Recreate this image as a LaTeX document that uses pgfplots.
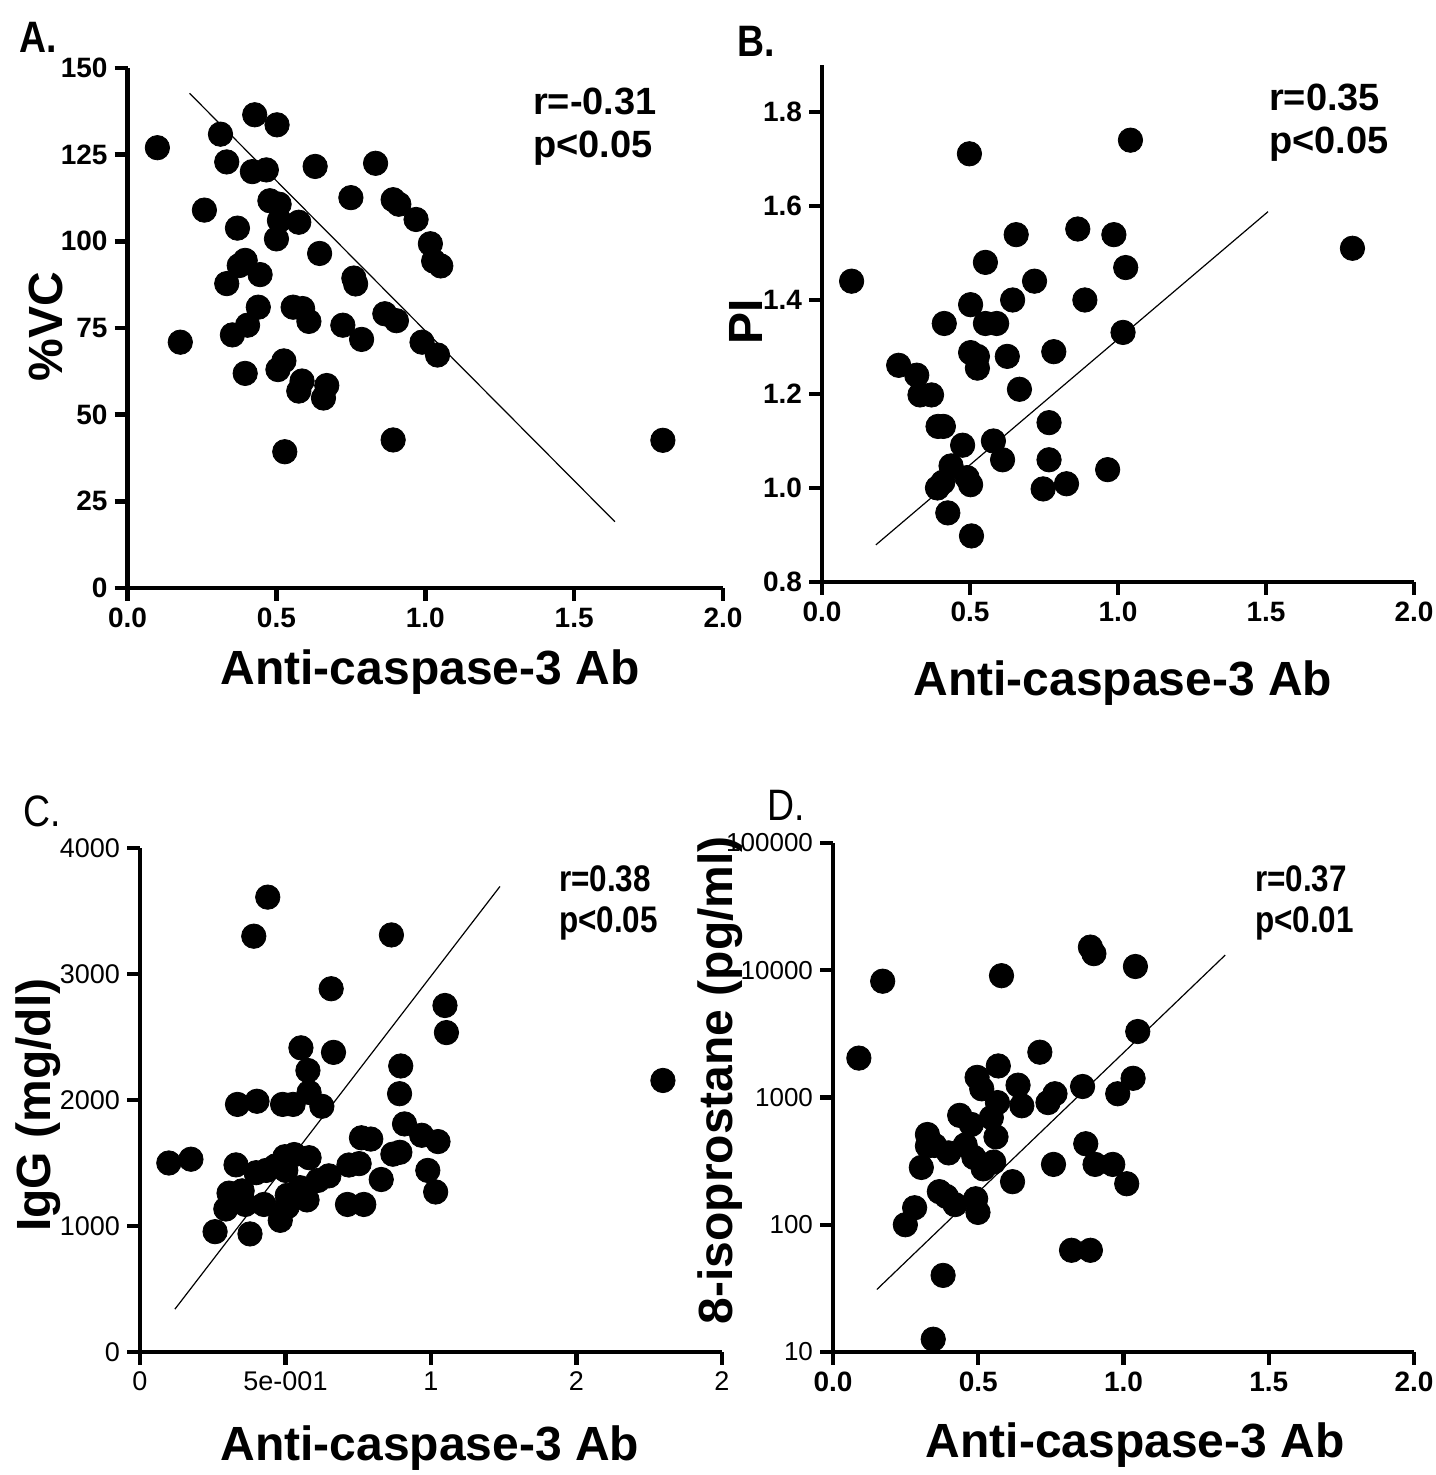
\documentclass[border=0pt]{standalone}
\usepackage{fontspec}
\setmainfont{Liberation Sans}
\newfontfamily\narrowfont[FakeStretch=0.85]{Liberation Sans}
\usepackage{pgfplots}
\pgfplotsset{compat=1.18}
\usepackage{pgfplotstable}

% A: %VC vs anti-caspase-3
\pgfplotstableread{
x y
0.100 127.0
0.177 70.9
0.258 109.0
0.312 130.9
0.333 122.9
0.333 87.8
0.352 73.0
0.369 103.8
0.375 93.0
0.395 94.5
0.395 61.9
0.403 75.8
0.419 120.1
0.427 136.5
0.439 81.0
0.445 90.4
0.466 120.6
0.478 111.7
0.509 110.7
0.510 106.0
0.500 100.7
0.502 133.6
0.505 63.0
0.525 65.5
0.528 39.3
0.556 81.0
0.575 105.5
0.588 80.6
0.609 76.9
0.575 56.8
0.586 59.7
0.630 121.6
0.645 96.5
0.658 54.8
0.669 58.4
0.723 75.8
0.750 112.6
0.760 89.4
0.766 87.7
0.786 71.7
0.833 122.5
0.864 79.1
0.892 112.0
0.911 110.7
0.903 77.1
0.892 42.7
0.969 106.3
0.989 70.9
1.017 99.3
1.028 94.3
1.052 92.9
1.041 67.2
1.798 42.6
}\dataA

% B: PI
\pgfplotstableread{
x y
0.100 1.440
0.259 1.261
0.320 1.240
0.331 1.198
0.370 1.198
0.392 1.131
0.410 1.131
0.390 1.000
0.408 1.012
0.413 1.350
0.425 0.947
0.436 1.047
0.475 1.091
0.490 1.022
0.502 1.007
0.498 1.711
0.502 1.390
0.502 1.288
0.525 1.280
0.525 1.255
0.505 0.898
0.552 1.480
0.552 1.350
0.590 1.350
0.579 1.100
0.610 1.060
0.626 1.280
0.644 1.400
0.656 1.539
0.667 1.210
0.718 1.440
0.747 0.998
0.767 1.139
0.767 1.060
0.783 1.290
0.826 1.009
0.864 1.551
0.888 1.400
0.965 1.039
0.986 1.539
1.017 1.331
1.026 1.469
1.042 1.740
1.792 1.510
}\dataB

% C: IgG
\pgfplotstableread{
x y
0.099 1500
0.175 1530
0.258 955
0.295 1135
0.306 1261
0.335 1965
0.330 1485
0.351 1279
0.362 1171
0.378 937
0.391 3300
0.402 1990
0.399 1423
0.426 1171
0.439 3610
0.434 1441
0.466 1477
0.490 1965
0.482 1045
0.498 1550
0.501 1441
0.506 1153
0.506 1243
0.526 1965
0.530 1567
0.550 1304
0.553 2414
0.574 1207
0.577 2234
0.581 2060
0.581 1542
0.612 1362
0.625 1950
0.649 1398
0.657 2883
0.665 2378
0.713 1171
0.718 1484
0.753 1495
0.769 1171
0.761 1700
0.793 1690
0.829 1369
0.864 3310
0.869 1570
0.893 1585
0.896 2270
0.892 2050
0.909 1810
0.968 1720
0.989 1441
1.024 1670
1.016 1270
1.048 2750
1.053 2535
1.797 2155
}\dataC

% D: 8-isoprostane
\pgfplotstableread{
x y
0.089 2040
0.171 8200
0.249 100
0.281 136
0.304 282
0.325 512
0.325 416
0.350 420
0.345 12.6
0.366 182
0.390 167
0.398 367
0.379 40
0.420 144
0.436 724
0.455 423
0.476 614
0.485 338
0.491 160
0.499 125
0.496 1440
0.512 1170
0.517 275
0.545 695
0.553 311
0.566 912
0.561 490
0.569 1770
0.580 9060
0.618 218
0.637 1250
0.650 861
0.712 2270
0.740 912
0.764 1070
0.759 298
0.821 63
0.859 1220
0.870 433
0.886 63
0.886 15200
0.898 13500
0.902 298
0.963 298
0.980 1070
1.011 210
1.033 1415
1.041 10700
1.049 3300
}\dataD

\pgfplotsset{
  prism/.style={
    scale only axis, anchor=south west, clip=false,
    axis x line=bottom, axis y line=left,
    axis line style={line width=2.2pt,-},
    tick style={line width=2.2pt, black},
    major tick length=6.5pt, tick align=outside,
    xmin=0, xmax=2, xtick={0,0.5,1,1.5,2},
    xlabel={Anti-caspase-3 Ab},
    label style={font=\bfseries\fontsize{24}{24}\selectfont},
    ticklabel style={font=\bfseries\fontsize{14}{14}\selectfont},
  },
  dots/.style={only marks, mark=*, mark size=6.1pt, black, mark options={fill=black}},
  fit/.style={no marks, black, line width=0.6pt},
}

\begin{document}
\begin{tikzpicture}
\useasboundingbox (0,0) rectangle (717.5pt,737.5pt);

% A
\begin{axis}[prism, at={(63.8pt,443.5pt)}, width=297.7pt, height=260pt,
    ymin=0, ymax=150, ytick={0,25,50,75,100,125,150},
    yticklabels={0,25,50,75,100,125,150},
    xticklabels={0.0,0.5,1.0,1.5,2.0},
    ylabel={\%VC},
    xlabel style={at={(axis description cs:0.508,-0.162)}, anchor=center},
    ylabel style={at={(axis description cs:-0.137,0.502)}, anchor=center}]
  \addplot[fit] coordinates {(0.208,142.7) (1.637,19.1)};
  \addplot[dots] table[x=x,y=y] {\dataA};
\end{axis}
\node[anchor=north west, align=left, font=\bfseries\fontsize{19}{21.5}\selectfont] at (263pt,697pt) {r=-0.31\\p<0.05};
\node[anchor=north west, font=\narrowfont\bfseries\fontsize{22}{22}\selectfont] at (6pt,730pt) {A.};

% B
\begin{axis}[prism, at={(411pt,446.5pt)}, width=296pt, height=258.5pt,
    ymin=0.8, ymax=1.9, ytick={0.8,1.0,1.2,1.4,1.6,1.8},
    yticklabels={0.8,1.0,1.2,1.4,1.6,1.8},
    xticklabels={0.0,0.5,1.0,1.5,2.0},
    ylabel={PI},
    xlabel style={at={(axis description cs:0.508,-0.195)}, anchor=center},
    ylabel style={at={(axis description cs:-0.129,0.503)}, anchor=center}]
  \addplot[fit] coordinates {(0.182,0.879) (1.507,1.588)};
  \addplot[dots] table[x=x,y=y] {\dataB};
\end{axis}
\node[anchor=north west, align=left, font=\bfseries\fontsize{19}{21.5}\selectfont] at (631pt,699pt) {r=0.35\\p<0.05};
\node[anchor=north west, font=\narrowfont\bfseries\fontsize{22}{22}\selectfont] at (365pt,728pt) {B.};

% C
\begin{axis}[prism, at={(70pt,61.5pt)}, width=291pt, height=252pt,
    ymin=0, ymax=4000, ytick={0,1000,2000,3000,4000},
    yticklabels={0,1000,2000,3000,4000},
    xticklabels={0,5e-001,1,2,2},
    ticklabel style={font=\fontsize{13.5}{13.5}\selectfont},
    ylabel={IgG (mg/dl)},
    xlabel style={at={(axis description cs:0.498,-0.19)}, anchor=center},
    ylabel style={at={(axis description cs:-0.175,0.49)}, anchor=center}]
  \addplot[fit] coordinates {(0.12,340) (1.237,3695)};
  \addplot[dots] table[x=x,y=y] {\dataC};
\end{axis}
\node[anchor=north west, align=left, font=\narrowfont\bfseries\fontsize{18.5}{20.5}\selectfont] at (276pt,308pt) {r=0.38\\p<0.05};
\node[anchor=north west, font=\narrowfont\fontsize{22}{22}\selectfont] at (8pt,343pt) {C.};

% D
\begin{axis}[prism, at={(416.5pt,61.5pt)}, width=290.5pt, height=254.5pt,
    ymode=log, ymin=10, ymax=100000, yminorticks=false,
    ytick={10,100,1000,10000,100000},
    yticklabels={10,100,1000,10000,100000},
    yticklabel style={font=\fontsize{13}{13}\selectfont},
    xticklabels={0.0,0.5,1.0,1.5,2.0},
    ylabel={8-isoprostane (pg/ml)},
    xlabel style={at={(axis description cs:0.52,-0.183)}, anchor=center},
    ylabel style={at={(axis description cs:-0.194,0.534)}, anchor=center}]
  \addplot[fit] coordinates {(0.151,31) (1.35,13150)};
  \addplot[dots] table[x=x,y=y] {\dataD};
\end{axis}
\node[anchor=north west, align=left, font=\narrowfont\bfseries\fontsize{18.5}{20.5}\selectfont] at (624pt,308pt) {r=0.37\\p<0.01};
\node[anchor=north west, font=\narrowfont\fontsize{22}{22}\selectfont] at (380pt,346pt) {D.};
\end{tikzpicture}
\end{document}
